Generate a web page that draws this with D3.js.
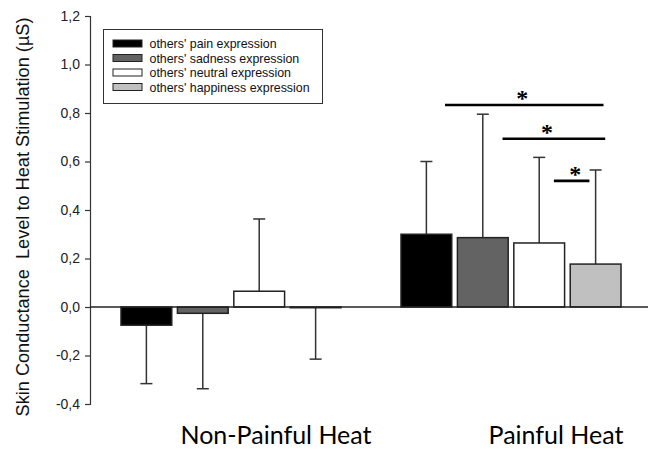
<!DOCTYPE html>
<html>
<head>
<meta charset="utf-8">
<script src="https://cdn.jsdelivr.net/npm/d3@7"></script>
<style>
  html, body { margin: 0; padding: 0; background: #fff; }
  svg { display: block; }
</style>
</head>
<body>
<svg id="chart" width="657" height="449"></svg>
<script>
// ---- data ----
const groups = ["Non-Painful Heat", "Painful Heat"];
const seriesNames = [
  "others' pain expression",
  "others' sadness expression",
  "others' neutral expression",
  "others' happiness expression"
];
const seriesColors = ["#000000", "#636363", "#ffffff", "#c0c0c0"];
const nonPainfulMeans = [-0.075, -0.026, 0.065, -0.003];
const nonPainfulErrors = [0.241, 0.311, 0.298, 0.212];
const painfulMeans = [0.300, 0.286, 0.264, 0.177];
const painfulErrors = [0.300, 0.509, 0.353, 0.388];
const yTicks = [-0.4, -0.2, 0.0, 0.2, 0.4, 0.6, 0.8, 1.0, 1.2];
// significance brackets within "Painful Heat" (positions in bar-step units)
const sigBrackets = [
  { from: 0.78, to: 3.59, star: 2.15, value: 0.833 },
  { from: 1.80, to: 3.62, star: 2.59, value: 0.694 },
  { from: 2.71, to: 3.34, star: 3.09, value: 0.520 }
];

const means = [nonPainfulMeans, painfulMeans];
const errors = [nonPainfulErrors, painfulErrors];

const svg = d3.select("#chart");

const x0 = d3.scaleBand().domain(groups).range([91, 651])
  .paddingInner(60 / 280).paddingOuter(30 / 280);
const x1 = d3.scaleBand().domain(d3.range(seriesNames.length))
  .range([0, x0.bandwidth()]).paddingInner(0.1).paddingOuter(0);
const y = d3.scaleLinear().domain([-0.4, 1.2]).range([404, 16]);

// y axis
const fmt = v => d3.format(".1f")(v).replace(".", ",").replace("−", "-");
const yAxis = d3.axisLeft(y).tickValues(yTicks).tickSize(5).tickPadding(5).tickFormat(fmt);
const gy = svg.append("g").attr("transform", "translate(90,0)").call(yAxis);
gy.select(".domain").attr("stroke", "#333").attr("stroke-width", 1.2);
gy.selectAll(".tick line").attr("stroke", "#333").attr("stroke-width", 1.2);
gy.selectAll(".tick text").attr("fill", "#222")
  .style("font-family", "'Liberation Sans', Arial, sans-serif").style("font-size", "14px");

// y label
svg.append("text")
  .attr("transform", `translate(29,${(y(-0.4) + y(1.2)) / 2 + 7}) rotate(-90)`)
  .attr("text-anchor", "middle")
  .style("font-family", "'Liberation Sans', Arial, sans-serif")
  .style("font-size", "17.5px")
  .attr("fill", "#111")
  .attr("xml:space", "preserve")
  .attr("textLength", 399)
  .attr("lengthAdjust", "spacingAndGlyphs")
  .text("Skin Conductance  Level to Heat Stimulation (\u00b5S)");

// bars
groups.forEach((g, gi) => {
  const gg = svg.append("g").attr("transform", `translate(${x0(g)},0)`);
  means[gi].forEach((m, i) => {
    const e = errors[gi][i];
    const cx = x1(i) + x1.bandwidth() / 2;
    const sign = m >= 0 ? 1 : -1;
    // error bar
    const yEnd = y(m + sign * e);
    gg.append("line").attr("x1", cx).attr("x2", cx)
      .attr("y1", y(m)).attr("y2", yEnd)
      .attr("stroke", "#333").attr("stroke-width", 1.5);
    gg.append("line").attr("x1", cx - 6).attr("x2", cx + 6)
      .attr("y1", yEnd).attr("y2", yEnd)
      .attr("stroke", "#333").attr("stroke-width", 1.5);
    gg.append("rect")
      .attr("x", x1(i)).attr("width", x1.bandwidth())
      .attr("y", Math.min(y(m), y(0)))
      .attr("height", Math.abs(y(m) - y(0)))
      .attr("fill", seriesColors[i])
      .attr("stroke", "#222").attr("stroke-width", 1.5);
  });
});

// zero line
svg.append("line").attr("x1", 90).attr("x2", 648)
  .attr("y1", y(0)).attr("y2", y(0))
  .attr("stroke", "#222").attr("stroke-width", 1.5);

// significance
const gSig = svg.append("g").attr("transform", `translate(${x0(groups[1])},0)`);
const step = x1.step();
sigBrackets.forEach(b => {
  gSig.append("line").attr("x1", b.from * step).attr("x2", b.to * step)
    .attr("y1", y(b.value)).attr("y2", y(b.value))
    .attr("stroke", "#000").attr("stroke-width", 2.6);
  gSig.append("text").attr("x", b.star * step).attr("y", y(b.value) + 1)
    .attr("text-anchor", "middle")
    .style("font-family", "'Liberation Serif', 'Times New Roman', serif")
    .style("font-weight", "bold").style("font-size", "24px")
    .text("*");
});

// x labels
groups.forEach(g => {
  svg.append("text")
    .attr("x", x0(g) + x0.bandwidth() / 2 + 45)
    .attr("y", 444)
    .attr("text-anchor", "middle")
    .style("font-family", "Lato, 'Open Sans', sans-serif")
    .style("font-size", "25px")
    .attr("fill", "#000")
    .text(g);
});

// legend
const lg = svg.append("g").attr("transform", "translate(103.5,29.5)");
lg.append("rect").attr("width", 219).attr("height", 74)
  .attr("fill", "#fff").attr("stroke", "#333").attr("stroke-width", 1);
seriesNames.forEach((s, i) => {
  const ry = 14 + i * 14.5;
  lg.append("rect").attr("x", 9.5).attr("y", ry - 3.5).attr("width", 29).attr("height", 7)
    .attr("fill", seriesColors[i]).attr("stroke", "#222").attr("stroke-width", 1);
  lg.append("text").attr("x", 46).attr("y", ry + 4.5)
    .style("font-family", "'Liberation Sans', Arial, sans-serif")
    .style("font-size", "12.4px").attr("fill", "#111")
    .text(s);
});
</script>
</body>
</html>
